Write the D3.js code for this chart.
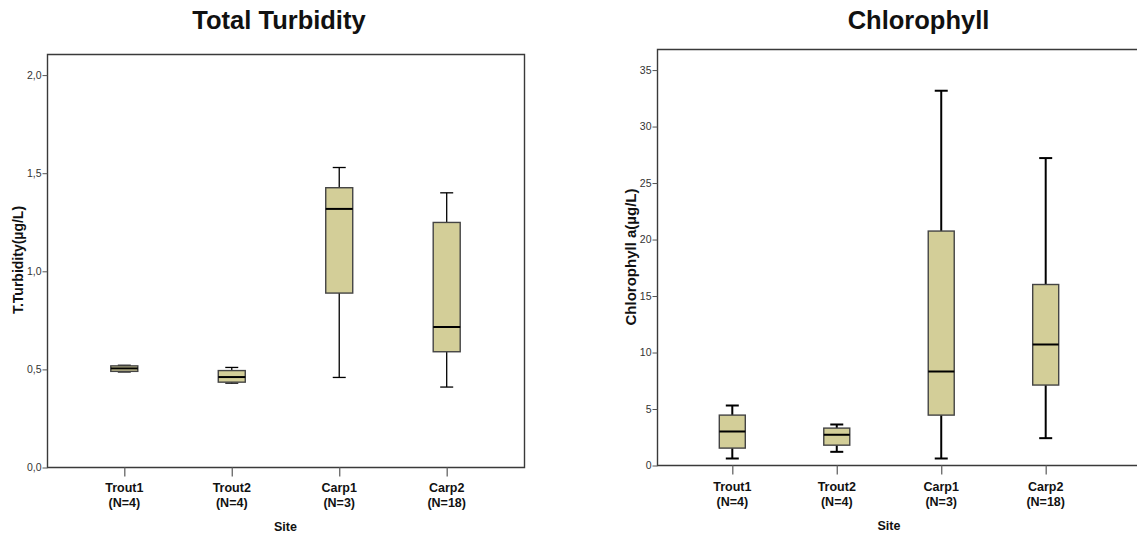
<!DOCTYPE html>
<html>
<head>
<meta charset="utf-8">
<script src="https://cdn.jsdelivr.net/npm/d3@7"></script>
<style>
  html, body { margin: 0; padding: 0; background: #ffffff; overflow: hidden; }
  svg { display: block; font-family: "Liberation Sans", Arial, sans-serif; }
</style>
</head>
<body>
<svg id="chart" width="1137" height="533"></svg>
<script>
// ---------- DATA ----------
const categories = ["Trout1", "Trout2", "Carp1", "Carp2"];
const nLabels = ["(N=4)", "(N=4)", "(N=3)", "(N=18)"];

// Total Turbidity box statistics
const turbMin    = [0.487, 0.430, 0.459, 0.410];
const turbQ1     = [0.490, 0.435, 0.889, 0.590];
const turbMedian = [0.505, 0.461, 1.318, 0.716];
const turbQ3     = [0.518, 0.494, 1.426, 1.249];
const turbMax    = [0.521, 0.510, 1.529, 1.400];
const turbTicks  = [0, 0.5, 1.0, 1.5, 2.0];
const turbTickLabels = ["0,0", "0,5", "1,0", "1,5", "2,0"];

// Chlorophyll a box statistics
const chlMin    = [0.62, 1.21, 0.62, 2.42];
const chlQ1     = [1.54, 1.80, 4.46, 7.12];
const chlMedian = [3.01, 2.72, 8.32, 10.71];
const chlQ3     = [4.46, 3.31, 20.75, 16.02];
const chlMax    = [5.31, 3.63, 33.17, 27.21];
const chlTicks  = [0, 5, 10, 15, 20, 25, 30, 35];
const chlTickLabels = ["0", "5", "10", "15", "20", "25", "30", "35"];

// ---------- DRAW ----------
const svg = d3.select("#chart");
const boxFill = "#d3ce98";

function drawPanel(cfg) {
  const g = svg.append("g");
  const { left, right, top, bottom } = cfg.frame;

  const y = d3.scaleLinear().domain(cfg.yDomain).range([bottom, top]);
  const x = d3.scalePoint().domain(categories).range(cfg.xRange);

  // frame
  const p = d3.path();
  if (cfg.rightBorder) {
    p.rect(left, top, right - left, bottom - top);
  } else {
    p.moveTo(right, top); p.lineTo(left, top); p.lineTo(left, bottom); p.lineTo(right, bottom);
  }
  g.append("path").attr("d", p.toString())
    .attr("fill", "none").attr("stroke", "#3a3a3a").attr("stroke-width", 1.4);

  // y axis
  const yAxis = d3.axisLeft(y)
    .tickValues(cfg.ticks)
    .tickFormat((d, i) => cfg.tickLabels[i])
    .tickSizeInner(5).tickSizeOuter(0).tickPadding(1);
  const ya = g.append("g").attr("transform", `translate(${left},0)`).call(yAxis);
  ya.select(".domain").remove();
  ya.selectAll(".tick line").attr("stroke", "#555").attr("stroke-width", 1);
  ya.selectAll(".tick text").attr("fill", "#333").style("font-size", "10.5px")
    .style("font-family", "'Liberation Sans Narrow', 'Liberation Sans', Arial, sans-serif");

  // x axis
  const xAxis = d3.axisBottom(x).tickSizeInner(9).tickSizeOuter(0).tickFormat("");
  const xa = g.append("g").attr("transform", `translate(0,${bottom})`).call(xAxis);
  xa.select(".domain").remove();
  xa.selectAll(".tick line").attr("stroke", "#666").attr("stroke-width", 1.3);

  // x labels (two lines)
  categories.forEach((c, i) => {
    const t = g.append("text")
      .attr("x", x(c)).attr("text-anchor", "middle")
      .attr("font-weight", "bold").attr("font-size", 12.5).attr("fill", "#111");
    t.append("tspan").attr("x", x(c)).attr("y", cfg.labelY).text(c);
    t.append("tspan").attr("x", x(c)).attr("y", cfg.labelY + 15).text(nLabels[i]);
  });

  // axis titles
  g.append("text")
    .attr("x", (cfg.xRange[0] + cfg.xRange[1]) / 2)
    .attr("y", cfg.siteY)
    .attr("text-anchor", "middle").attr("font-weight", "bold")
    .attr("font-size", 12.5).attr("fill", "#111").text("Site");

  g.append("text")
    .attr("transform", `translate(${cfg.yTitleX},${cfg.yTitleY}) rotate(-90)`)
    .attr("text-anchor", "middle").attr("font-weight", "bold")
    .attr("font-size", cfg.yTitleSize).attr("fill", "#111").text(cfg.yTitle);

  // chart title
  g.append("text")
    .attr("x", cfg.titleX).attr("y", 29)
    .attr("text-anchor", "middle").attr("font-weight", "bold")
    .attr("font-size", 25.5).attr("fill", "#111").text(cfg.title);

  // boxes
  const bw = cfg.boxWidth, cw = cfg.capWidth;
  categories.forEach((c, i) => {
    const cx = x(c);
    const bg = g.append("g");
    // whiskers
    bg.append("line").attr("x1", cx).attr("x2", cx)
      .attr("y1", y(cfg.max[i])).attr("y2", y(cfg.q3[i]))
      .attr("stroke", "#000").attr("stroke-width", cfg.whiskerWidth);
    bg.append("line").attr("x1", cx).attr("x2", cx)
      .attr("y1", y(cfg.q1[i])).attr("y2", y(cfg.min[i]))
      .attr("stroke", "#000").attr("stroke-width", cfg.whiskerWidth);
    bg.append("line").attr("x1", cx - cw / 2).attr("x2", cx + cw / 2)
      .attr("y1", y(cfg.max[i])).attr("y2", y(cfg.max[i]))
      .attr("stroke", "#000").attr("stroke-width", cfg.whiskerWidth);
    bg.append("line").attr("x1", cx - cw / 2).attr("x2", cx + cw / 2)
      .attr("y1", y(cfg.min[i])).attr("y2", y(cfg.min[i]))
      .attr("stroke", "#000").attr("stroke-width", cfg.whiskerWidth);
    // box
    bg.append("rect")
      .attr("x", cx - bw / 2).attr("y", y(cfg.q3[i]))
      .attr("width", bw).attr("height", y(cfg.q1[i]) - y(cfg.q3[i]))
      .attr("fill", boxFill).attr("stroke", "#444").attr("stroke-width", 1.4);
    // median
    bg.append("line").attr("x1", cx - bw / 2).attr("x2", cx + bw / 2)
      .attr("y1", y(cfg.median[i])).attr("y2", y(cfg.median[i]))
      .attr("stroke", "#000").attr("stroke-width", 2);
  });
}

drawPanel({
  frame: { left: 47.5, right: 524.5, top: 54.5, bottom: 467.5 }, rightBorder: true,
  yDomain: [0, 2.105],
  xRange: [124.3, 446.7],
  ticks: turbTicks, tickLabels: turbTickLabels,
  min: turbMin, q1: turbQ1, median: turbMedian, q3: turbQ3, max: turbMax,
  boxWidth: 27, capWidth: 13, whiskerWidth: 1.3,
  labelY: 492, siteY: 531,
  yTitle: "T.Turbidity(µg/L)", yTitleX: 23, yTitleY: 260, yTitleSize: 14,
  title: "Total Turbidity", titleX: 279
});

drawPanel({
  frame: { left: 657.5, right: 1137, top: 49.5, bottom: 465.5 }, rightBorder: false,
  yDomain: [0, 36.82],
  xRange: [732.3, 1045.7],
  ticks: chlTicks, tickLabels: chlTickLabels,
  min: chlMin, q1: chlQ1, median: chlMedian, q3: chlQ3, max: chlMax,
  boxWidth: 26, capWidth: 13, whiskerWidth: 2,
  labelY: 491, siteY: 530,
  yTitle: "Chlorophyll a(µg/L)", yTitleX: 636, yTitleY: 257, yTitleSize: 15,
  title: "Chlorophyll", titleX: 918.5
});
</script>
</body>
</html>
